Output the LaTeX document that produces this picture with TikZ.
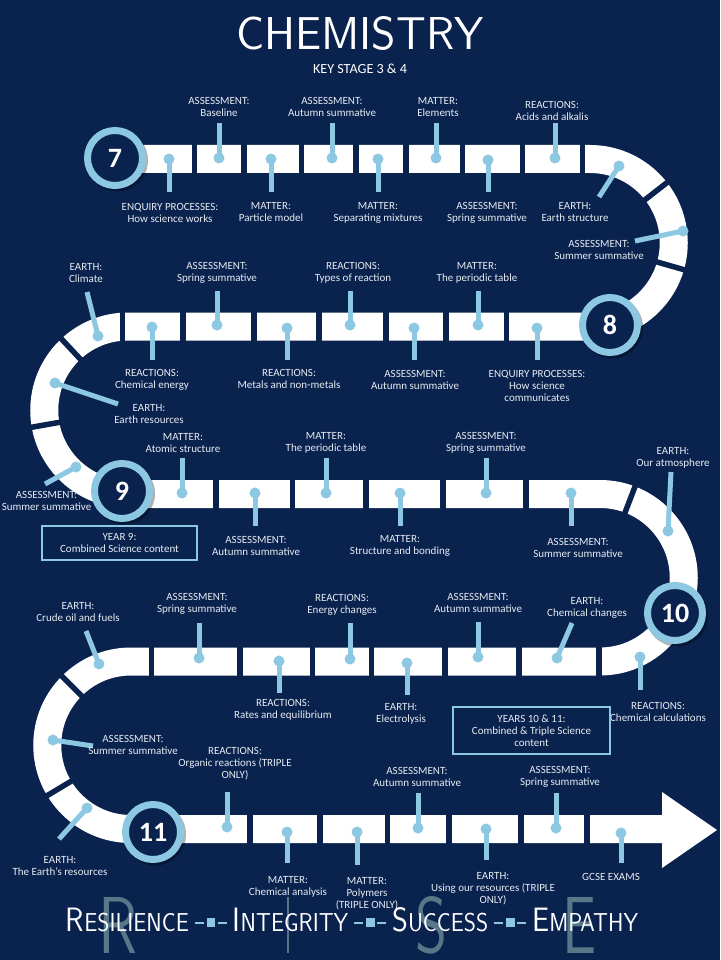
\documentclass[tikz,border=0pt]{standalone}
\usepackage{fontspec}
\setmainfont{Carlito}
\usepackage{graphicx}
\definecolor{navyc}{HTML}{0A224E}
\definecolor{skyc}{HTML}{8CC8E2}
\definecolor{txtc}{HTML}{E6ECF2}
\definecolor{risec}{HTML}{58788A}
\tikzset{
  ribbon/.style={draw=white,line width=28pt},
  gapline/.style={draw=navyc,line width=5.5pt},
  stem/.style={draw=skyc,line width=5pt},
  dot/.style={circle,fill=skyc,minimum size=11pt,inner sep=0pt},
  lbl/.style={font=\fontsize{11}{12}\selectfont,text=txtc,align=center,inner sep=0pt},
  yearc/.style={circle,draw=skyc,line width=7pt,fill=navyc,minimum size=55pt,inner sep=0pt,
    font=\fontsize{28}{28}\selectfont\bfseries,text=white},
  shade/.style={fill=black,opacity=0.3},
  infobox/.style={draw=skyc,line width=1.6pt,font=\fontsize{11}{12}\selectfont,text=txtc,align=center,inner sep=2pt},
  bigl/.style={text=risec,font=\sffamily,inner sep=0pt},
}
% stem + dot + label
\newcommand{\pin}[5]{%
  \coordinate (#1-d) at (#2);
  \coordinate (#1-e) at (#3);
  \draw[stem] (#1-d) -- (#1-e);
  \node[dot] (#1) at (#1-d) {};
  \node[lbl] (#1-t) at (#4) {#5};}
\newcommand{\yearmark}[3]{%
  \fill[shade] ($(#2)+(2,-2.5)$) circle (31);
  \node[yearc] (#1) at (#2) {#3};}
\newcommand{\capword}[2]{{\fontsize{30}{30}\selectfont #1}{\fontsize{23}{23}\selectfont #2}}
\newcommand{\sepmark}{\hspace{6pt}\textcolor{skyc}{\rule[7pt]{9pt}{1.6pt}\hspace{2.5pt}\rule[4pt]{8.5pt}{8.5pt}\hspace{2.5pt}\rule[7pt]{9pt}{1.6pt}}\hspace{6pt}}
\usetikzlibrary{calc}

\begin{document}
\begin{tikzpicture}[x=1pt,y=1pt]
  \useasboundingbox (0,0) rectangle (720,-960);
  \fill[navyc] (0,0) rectangle (720,-960);
  % title
  \node[font=\sffamily,text=white,inner sep=0pt] (title) at (360,-33.5) {\resizebox{247pt}{33pt}{CHEMISTRY}};
  \node[text=white,inner sep=0pt] (stage) at (360,-69) {\resizebox{94pt}{9.5pt}{KEY STAGE 3 \& 4}};
  % RISE letters
  \node[bigl] (bigR) at (118.5,-925) {\resizebox{39pt}{56pt}{R}};
  \node[bigl] (bigI) at (288,-925) {\resizebox{6pt}{56pt}{I}};
  \node[bigl] (bigS) at (431,-925) {\resizebox{32pt}{56pt}{S}};
  \node[bigl] (bigE) at (579,-925) {\resizebox{34pt}{56pt}{E}};
  \node[font=\sffamily,text=white,inner sep=0pt] (motto) at (352,-920) {\resizebox{572pt}{24pt}{%
    \capword{R}{ESILIENCE}\sepmark\capword{I}{NTEGRITY}\sepmark\capword{S}{UCCESS}\sepmark\capword{E}{MPATHY}}};
  % road
  \draw[ribbon] (120,-159) -- (590,-159) arc[start angle=90,end angle=-90,radius=83.75]
    -- (128,-326.5) arc[start angle=90,end angle=270,radius=83.75]
    -- (600,-494) arc[start angle=90,end angle=-90,radius=83.75]
    -- (131,-661.5) arc[start angle=90,end angle=270,radius=83.75]
    -- (664,-829);
  \fill[white] (662,-792) -- (717,-830) -- (662,-868) -- cycle;
  % gaps between blocks
  \foreach \x in {194.5,244,301.5,356,406,462.5,522.5,582.5} \draw[gapline] (\x,-143) -- (\x,-175);
  \foreach \x in {122.5,183,254,319,386,446,506.5} \draw[gapline] (\x,-310) -- (\x,-343);
  \foreach \x in {216,292.5,366,443,526} \draw[gapline] (\x,-478) -- (\x,-510);
  \foreach \x in {151.5,240,312.5,371.5,445,519,599} \draw[gapline] (\x,-645) -- (\x,-678);
  \foreach \x in {250,320,387.5,449,521,587} \draw[gapline] (\x,-813) -- (\x,-845);
  \foreach \cx/\cy/\a in {590/-242.75/38,590/-242.75/-16,128/-410.25/133,128/-410.25/190,
      600/-577.75/69,131/-745.25/135,131/-745.25/211}
    \draw[gapline] (\cx,\cy) ++(\a:67) -- ++(\a:34);
  % year 7
  \pin{p01}{169,-159}{169,-192}{170,-212.5}{ENQUIRY PROCESSES:\\How science works}
  \pin{p02}{219,-158}{219,-123}{219,-107}{ASSESSMENT:\\Baseline}
  \pin{p03}{271,-159}{271,-192}{271,-212.5}{MATTER:\\Particle model}
  \pin{p04}{332,-158}{332,-123}{332,-107}{ASSESSMENT:\\Autumn summative}
  \pin{p05}{378,-159}{378,-192}{378,-212.5}{MATTER:\\Separating mixtures}
  \pin{p06}{436,-158}{436,-123}{438,-107}{MATTER:\\Elements}
  \pin{p07}{488,-160}{488,-192}{487,-212.5}{ASSESSMENT:\\Spring summative}
  \pin{p08}{555,-158}{555,-123}{552,-110.5}{REACTIONS:\\Acids and alkalis}
  \pin{p09}{619,-166}{599,-197}{575,-212.5}{EARTH:\\Earth structure}
  \pin{p10}{683,-231}{635,-241}{599,-250}{ASSESSMENT:\\Summer summative}
  % year 8
  \pin{p11}{98,-336}{87,-292}{86,-273}{EARTH:\\Climate}
  \pin{p12}{152,-327}{152,-360}{152,-380}{REACTIONS:\\Chemical energy}
  \pin{p13}{217,-325}{217,-291}{217,-273}{ASSESSMENT:\\Spring summative}
  \pin{p14}{287,-328}{287,-360}{289,-379}{REACTIONS:\\Metals and non-metals}
  \pin{p15}{350,-325}{350,-291}{353,-273}{REACTIONS:\\Types of reaction}
  \pin{p16}{414,-328}{414,-360}{415,-380}{ASSESSMENT:\\Autumn summative}
  \pin{p17}{478,-325}{478,-291}{477,-273}{MATTER:\\The periodic table}
  \pin{p18}{537,-328}{537,-360}{537,-386}{ENQUIRY PROCESSES:\\How science\\communicates}
  \pin{p19}{55,-383}{118,-404}{149,-414}{EARTH:\\Earth resources}
  % year 9
  \pin{p20}{76,-467}{45,-484}{46.5,-501}{ASSESSMENT:\\Summer summative}
  \pin{p21}{182,-493}{182,-458}{183,-443}{MATTER:\\Atomic structure}
  \pin{p22}{255,-493}{255,-526}{256,-546}{ASSESSMENT:\\Autumn summative}
  \pin{p23}{326,-493}{326,-458}{326,-443}{MATTER:\\The periodic table}
  \pin{p24}{400,-493}{400,-526}{400,-546}{MATTER:\\Structure and bonding}
  \pin{p25}{486,-493}{486,-458}{486,-443}{ASSESSMENT:\\Spring summative}
  \pin{p26}{571,-493}{571,-526}{578,-548}{ASSESSMENT:\\Summer summative}
  \pin{p27}{668,-531}{671,-472}{673,-458}{EARTH:\\Our atmosphere}
  % year 10
  \pin{p28}{99,-664}{86,-631}{78,-612}{EARTH:\\Crude oil and fuels}
  \pin{p29}{199,-658}{199,-623}{197,-604}{ASSESSMENT:\\Spring summative}
  \pin{p30}{279,-661}{279,-693}{283,-710}{REACTIONS:\\Rates and equilibrium}
  \pin{p31}{350,-659}{350,-623}{342,-605}{REACTIONS:\\Energy changes}
  \pin{p32}{407,-663}{407,-695}{401,-714}{EARTH:\\Electrolysis}
  \pin{p33}{478,-657}{478,-622}{478,-603}{ASSESSMENT:\\Autumn summative}
  \pin{p34}{557,-658}{572,-623}{587,-608}{EARTH:\\Chemical changes}
  \pin{p35}{640,-657}{640,-690}{658,-712}{REACTIONS:\\Chemical calculations}
  % year 11
  \pin{p36}{53,-740}{93,-746}{133,-745}{ASSESSMENT:\\Summer summative}
  \pin{p37}{87,-808}{59,-839}{60,-866}{EARTH:\\The Earth’s resources}
  \pin{p38}{227,-827}{227,-792}{235,-764}{REACTIONS:\\Organic reactions (TRIPLE\\ONLY)}
  \pin{p39}{287,-832}{287,-863}{288,-887}{MATTER:\\Chemical analysis}
  \pin{p40}{357,-832}{357,-865}{367,-894}{MATTER:\\Polymers\\(TRIPLE ONLY)}
  \pin{p41}{418,-828}{418,-793}{417,-777}{ASSESSMENT:\\Autumn summative}
  \pin{p42}{486,-829}{486,-860}{493,-889}{EARTH:\\Using our resources (TRIPLE\\ONLY)}
  \pin{p43}{556,-828}{556,-793}{560,-777}{ASSESSMENT:\\Spring summative}
  \pin{p44}{621,-833}{621,-863}{611,-877}{GCSE EXAMS}
  % year circles
  \yearmark{y7}{115,-158}{7}
  \yearmark{y8}{610,-325}{8}
  \yearmark{y9}{122,-491}{9}
  \yearmark{y10}{675,-613}{10}
  \yearmark{y11}{153,-832}{11}
  % notes
  \node[infobox,minimum width=155pt,minimum height=34pt] (y9box) at (119.5,-543) {YEAR 9:\\Combined Science content};
  \node[infobox,minimum width=157pt,minimum height=47pt] (y10box) at (531.5,-730.5) {YEARS 10 \& 11:\\Combined \& Triple Science\\content};
\end{tikzpicture}
\end{document}
